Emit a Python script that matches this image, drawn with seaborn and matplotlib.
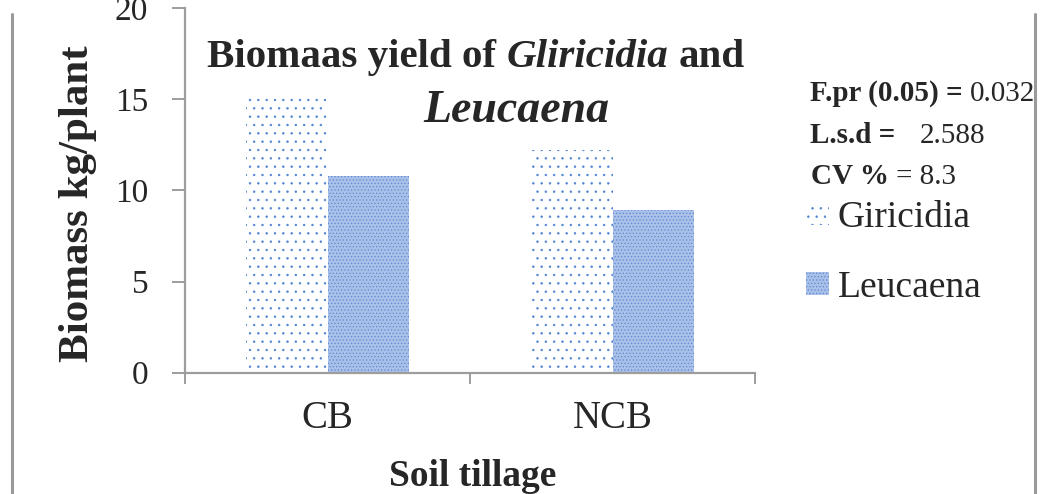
import pandas as pd
import matplotlib.pyplot as plt
import seaborn as sns
from matplotlib.lines import Line2D

# Datos del gráfico
tillage = ["CB", "NCB"]
species = ["Giricidia", "Leucaena"]
giricidia_biomass = [15.1, 12.2]
leucaena_biomass = [10.8, 8.9]
y_ticks = [0, 5, 10, 15, 20]

W, H = 1040, 494

df = pd.DataFrame({
    "Tillage": tillage * 2,
    "Species": [species[0]] * 2 + [species[1]] * 2,
    "Biomass": giricidia_biomass + leucaena_biomass,
})

sns.set_theme(style="white")
plt.rcParams["font.family"] = ["Liberation Serif", "DejaVu Serif"]
plt.rcParams["hatch.linewidth"] = 0.5

fig = plt.figure(figsize=(W / 100, H / 100), dpi=100)
ax = fig.add_axes([185 / W, 1 - 372.7 / H, 570 / W, (372.7 - 8.1) / H])

sns.barplot(data=df, x="Tillage", y="Biomass", hue="Species", hue_order=species,
            order=tillage, width=0.57, gap=0, errorbar=None, legend=False, ax=ax)

# Estilos de relleno: puntos para Giricidia, trama densa para Leucaena
styles = [("white", "..", "#4f82d4"), ("#a9c0e8", ".....", "#5f88d3")]
for cont, (face, hatch, edge) in zip(ax.containers, styles):
    for bar in cont:
        bar.set_facecolor(face)
        bar.set_hatch(hatch)
        bar.set_edgecolor(edge)
        bar.set_linewidth(0)

ax.set_xlim(-0.5, 1.5)
ax.set_ylim(0, 20)
ax.set_yticks(y_ticks)
ax.set_xticks([0, 1], labels=tillage)
ax.set_xticks([-0.5, 0.5, 1.5], minor=True)

sns.despine(ax=ax)
for s in ["left", "bottom"]:
    ax.spines[s].set_color("#9d9d9d")
    ax.spines[s].set_linewidth(1.6)

ax.tick_params(axis="y", which="major", length=9.4, width=1.4, color="#9d9d9d",
               labelsize=24, pad=17, left=True)
ax.tick_params(axis="x", which="major", length=0, labelsize=28, pad=20)
ax.tick_params(axis="x", which="minor", length=8, width=1.4, color="#9d9d9d", bottom=True)

ax.set_ylabel("Biomass kg/plant", fontsize=31, fontweight="bold")
ax.yaxis.set_label_coords((78 - 185) / 570, (372.7 - 204) / 364.6)
ax.yaxis.label.set_verticalalignment("center")

ax.set_xlabel("Soil tillage", fontsize=27, fontweight="bold")
ax.xaxis.set_label_coords((473 - 185) / 570, (372.7 - 486) / 364.6)
ax.xaxis.label.set_verticalalignment("baseline")

renderer = fig.canvas.get_renderer()


def draw_runs(x0, y0, runs, size):
    # escribe trozos de texto con estilos distintos uno tras otro
    x = x0
    px = size * 100 / 72
    for text, weight, style, gap in runs:
        t = fig.text(x / W, 1 - y0 / H, text, fontsize=size, fontweight=weight,
                     fontstyle=style, va="baseline", ha="left")
        x += t.get_window_extent(renderer).width + gap * px


# Título
draw_runs(207, 67, [("Biomaas yield of", "bold", "normal", 0.25),
                    ("Gliricidia", "bold", "italic", 0.25),
                    ("and", "bold", "normal", 0)], 29.5)
draw_runs(423, 122, [("Leucaena", "bold", "italic", 0)], 33)

# Estadísticos
draw_runs(810, 101, [("F.pr (0.05) =", "bold", "normal", 0.25),
                     ("0.032", "normal", "normal", 0)], 21)
draw_runs(810, 143, [("L.s.d =", "bold", "normal", 0)], 21)
draw_runs(920, 143, [("2.588", "normal", "normal", 0)], 21)
draw_runs(811, 184, [("CV %", "bold", "normal", 0.25),
                     ("= 8.3", "normal", "normal", 0)], 21)

# Leyenda
handles = [cont.patches[0] for cont in ax.containers]
fig.legend(handles, species, loc="upper left", bbox_to_anchor=(806 / W, 1 - 200 / H),
           frameon=False, fontsize=27, handlelength=0.6, handleheight=0.55,
           handletextpad=0.25, labelspacing=0.95, borderpad=0, borderaxespad=0)

# Bordes del gráfico
fig.add_artist(Line2D([12 / W, 12 / W], [0, 1 - 14 / H], color="#9a9a9a", lw=2.2))
fig.add_artist(Line2D([1035 / W, 1035 / W], [0, 1 - 14 / H], color="#9a9a9a", lw=2.2))

fig.savefig("out.png", dpi=100)
plt.close(fig)
